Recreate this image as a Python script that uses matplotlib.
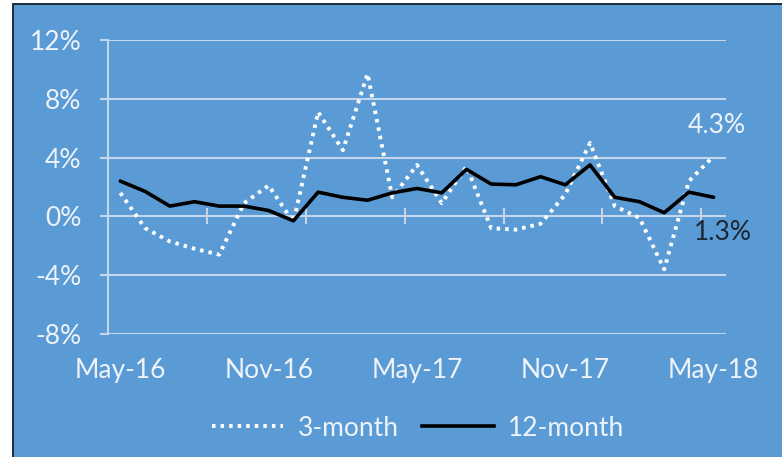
import matplotlib
matplotlib.use("Agg")
import matplotlib.pyplot as plt
from matplotlib.patches import Rectangle
from matplotlib.lines import Line2D

months = ["May-16", "Jun-16", "Jul-16", "Aug-16", "Sep-16", "Oct-16", "Nov-16", "Dec-16",
          "Jan-17", "Feb-17", "Mar-17", "Apr-17", "May-17", "Jun-17", "Jul-17", "Aug-17",
          "Sep-17", "Oct-17", "Nov-17", "Dec-17", "Jan-18", "Feb-18", "Mar-18", "Apr-18", "May-18"]
three_month = [1.6, -0.8, -1.7, -2.2, -2.6, 0.9, 2.1, -0.4, 7.1, 4.5, 9.7, 1.3, 3.5, 0.9,
               3.4, -0.8, -0.9, -0.5, 1.5, 5.0, 0.7, -0.1, -3.6, 2.4, 4.1]
twelve_month = [2.4, 1.7, 0.7, 1.0, 0.7, 0.7, 0.4, -0.3, 1.65, 1.3, 1.1, 1.6, 1.9, 1.6,
                3.2, 2.2, 2.15, 2.7, 2.15, 3.5, 1.3, 1.0, 0.25, 1.65, 1.3]
y_ticks = [-8, -4, 0, 4, 8, 12]
y_labels = ["-8%", "-4%", "0%", "4%", "8%", "12%"]
x_label_idx = [0, 6, 12, 18, 24]
end_labels = ["4.3%", "1.3%"]

BG = "#5B9BD5"
GRID = "#C3D6EC"
TXT = "#EEF3F9"
FONT = ["Lato", "DejaVu Sans"]
FS = 19

W, H = 782, 457
fig = plt.figure(figsize=(W / 100, H / 100), dpi=100, facecolor="white")
bgrect = Rectangle((13 / W, -0.01), 1.0, (H - 4) / H + 0.01, transform=fig.transFigure,
                   facecolor=BG, edgecolor="#1E2D3D", linewidth=1.4, zorder=-10)
fig.patches.append(bgrect)

ax = fig.add_axes([108 / W, (H - 334) / H, (726 - 108) / W, (334 - 40) / H])
ax.set_facecolor("none")
x = list(range(len(months)))
ax.set_xlim(-0.5, len(months) - 0.5)
ax.set_ylim(-8, 12)

for s in ["top", "right", "bottom"]:
    ax.spines[s].set_visible(False)
ax.spines["left"].set_color(GRID)
ax.spines["left"].set_linewidth(1.5)

ax.set_yticks(y_ticks)
ax.set_yticklabels(y_labels, fontsize=FS, color=TXT, family=FONT)
ax.tick_params(axis="y", direction="out", length=6, width=1.5, color=GRID, pad=13)
ax.yaxis.grid(True, color=GRID, linewidth=1.5)
ax.set_axisbelow(True)

ax.set_xticks(x_label_idx)
ax.set_xticklabels([months[i] for i in x_label_idx], fontsize=FS, color=TXT, family=FONT)
ax.tick_params(axis="x", length=0, pad=17)

sec = ax.secondary_xaxis(8 / 20)
sec.spines["bottom"].set_visible(False)
sec.set_xticks([i - 0.5 for i in range(0, len(months), 4)])
sec.set_xticklabels([])
sec.tick_params(axis="x", direction="inout", length=12, width=1.5, color=GRID)

dots = (0, (0.9, 1.3))
ax.plot(x, three_month, color="white", linewidth=2.8, linestyle=dots,
        solid_capstyle="butt", zorder=3)
ax.plot(x, twelve_month, color="black", linewidth=2.6, zorder=4,
        solid_joinstyle="round", solid_capstyle="round")

ax.annotate(end_labels[0], xy=(x[-1], three_month[-1]), xytext=(2, 13), textcoords="offset points",
            ha="center", va="bottom", fontsize=FS, color=TXT, family=FONT)
ax.annotate(end_labels[1], xy=(x[-1], twelve_month[-1]), xytext=(7, -16), textcoords="offset points",
            ha="center", va="top", fontsize=FS, color="#1B2633", family=FONT)

handles = [Line2D([], [], color="white", linewidth=2.8, linestyle=dots),
           Line2D([], [], color="black", linewidth=2.6)]
leg = fig.legend(handles, ["3-month", "12-month"], loc="center", bbox_to_anchor=(418 / W, 1 - 428 / H),
                 ncol=2, frameon=False, handlelength=2.7, handletextpad=0.55, columnspacing=0.9,
                 prop={"family": FONT, "size": FS})
for t in leg.get_texts():
    t.set_color(TXT)

fig.savefig("out.png", dpi=100, facecolor=fig.get_facecolor())
